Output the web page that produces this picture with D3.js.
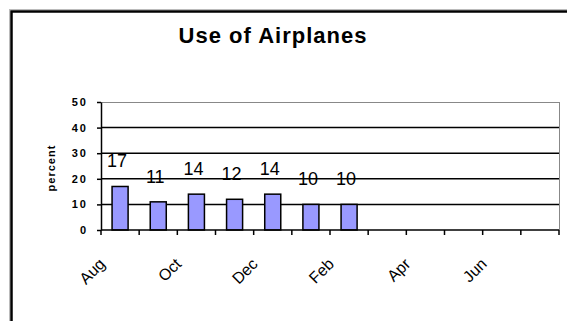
<!DOCTYPE html>
<html>
<head>
<meta charset="utf-8">
<script src="https://cdn.jsdelivr.net/npm/d3@7"></script>
<style>
  html, body { margin: 0; padding: 0; background: #fff; }
  svg { display: block; }
</style>
</head>
<body>
<svg id="chart" width="567" height="321"></svg>
<script>
// Monthly airplane use, school year Aug–Jul (only Aug–Feb recorded)
const months = ["Aug", "Sep", "Oct", "Nov", "Dec", "Jan", "Feb", "Mar", "Apr", "May", "Jun", "Jul"];
const values = [17, 11, 14, 12, 14, 10, 10];
const monthLabels = ["Aug", "Oct", "Dec", "Feb", "Apr", "Jun"];
const yTicks = [0, 10, 20, 30, 40, 50];

const svg = d3.select("#chart");
const plot = { left: 101, right: 559, top: 102, bottom: 230 };

// outer frame (extends past the right and bottom edges)
svg.append("rect").attr("x", 9.5).attr("y", 9.5).attr("width", 700).attr("height", 500)
  .attr("fill", "none").attr("stroke", "#bbb").attr("stroke-width", 1);
svg.append("rect").attr("x", 11.5).attr("y", 11.5).attr("width", 700).attr("height", 500)
  .attr("fill", "#fff").attr("stroke", "#000").attr("stroke-width", 2.5);

// title
svg.append("text")
  .attr("x", 273).attr("y", 43)
  .attr("text-anchor", "middle")
  .attr("font-family", "Liberation Sans, Arial, sans-serif")
  .attr("font-weight", "bold")
  .attr("font-size", 22)
  .attr("letter-spacing", 1)
  .text("Use of Airplanes");

const x = d3.scaleBand().domain(months).range([plot.left, plot.right]).padding(0);
const y = d3.scaleLinear().domain([0, 50]).range([plot.bottom, plot.top]);

// plot area frame: grey top and right edges
svg.append("line").attr("x1", plot.left).attr("x2", plot.right)
  .attr("y1", plot.top + 0.5).attr("y2", plot.top + 0.5)
  .attr("stroke", "#888").attr("stroke-width", 1);
svg.append("line").attr("x1", plot.right + 0.5).attr("x2", plot.right + 0.5)
  .attr("y1", plot.top).attr("y2", plot.bottom)
  .attr("stroke", "#888").attr("stroke-width", 1);

// horizontal gridlines
svg.append("g").selectAll("line")
  .data(yTicks.filter(t => t > 0 && t < 50))
  .join("line")
  .attr("x1", plot.left).attr("x2", plot.right)
  .attr("y1", d => y(d)).attr("y2", d => y(d))
  .attr("stroke", "#000").attr("stroke-width", 1.5);

// y axis
const yAxis = svg.append("g")
  .attr("transform", `translate(${plot.left},0)`)
  .call(d3.axisLeft(y).tickValues(yTicks).tickSize(4).tickPadding(9).tickSizeOuter(0));
yAxis.select(".domain").attr("stroke", "#000").attr("stroke-width", 1.5);
yAxis.selectAll(".tick line").attr("stroke", "#000").attr("stroke-width", 1.5);
yAxis.selectAll(".tick text")
  .attr("font-family", "Liberation Sans, Arial, sans-serif")
  .attr("font-weight", "bold")
  .attr("font-size", 11)
  .attr("letter-spacing", 2)
  .attr("fill", "#000");

// y axis title
svg.append("text")
  .attr("transform", "translate(55,168) rotate(-90)")
  .attr("text-anchor", "middle")
  .attr("font-family", "Liberation Sans, Arial, sans-serif")
  .attr("font-weight", "bold")
  .attr("font-size", 11)
  .attr("letter-spacing", 1)
  .text("percent");

// bars
const barW = x.bandwidth() * 0.42;
const data = values.map((v, i) => ({ m: months[i], v }));
svg.append("g").selectAll("rect")
  .data(data)
  .join("rect")
  .attr("x", d => x(d.m) + (x.bandwidth() - barW) / 2)
  .attr("y", d => y(d.v))
  .attr("width", barW)
  .attr("height", d => y(0) - y(d.v))
  .attr("fill", "#9999ff")
  .attr("stroke", "#000")
  .attr("stroke-width", 1.5);

// value labels
svg.append("g").selectAll("text")
  .data(data)
  .join("text")
  .attr("x", d => x(d.m) + x.bandwidth() / 2 - 3)
  .attr("y", d => y(d.v) - 19)
  .attr("text-anchor", "middle")
  .attr("font-family", "Liberation Sans, Arial, sans-serif")
  .attr("font-size", 18)
  .attr("fill", "#000")
  .text(d => d.v);

// x axis with ticks at category boundaries
const boundaries = months.map(m => x(m)).concat([plot.right]);
svg.append("line")
  .attr("x1", plot.left).attr("x2", plot.right)
  .attr("y1", plot.bottom).attr("y2", plot.bottom)
  .attr("stroke", "#000").attr("stroke-width", 1.5);
svg.append("g").selectAll("line")
  .data(boundaries)
  .join("line")
  .attr("x1", d => d).attr("x2", d => d)
  .attr("y1", plot.bottom).attr("y2", plot.bottom + 5)
  .attr("stroke", "#000").attr("stroke-width", 1.5);

// rotated month labels (every other month)
svg.append("g").selectAll("text")
  .data(monthLabels)
  .join("text")
  .attr("transform", d => `translate(${x(d) + x.bandwidth() / 2 - 14},${plot.bottom + 35}) rotate(-45)`)
  .attr("text-anchor", "end")
  .attr("font-family", "Liberation Sans, Arial, sans-serif")
  .attr("font-size", 16)
  .attr("fill", "#000")
  .text(d => d);
</script>
</body>
</html>
